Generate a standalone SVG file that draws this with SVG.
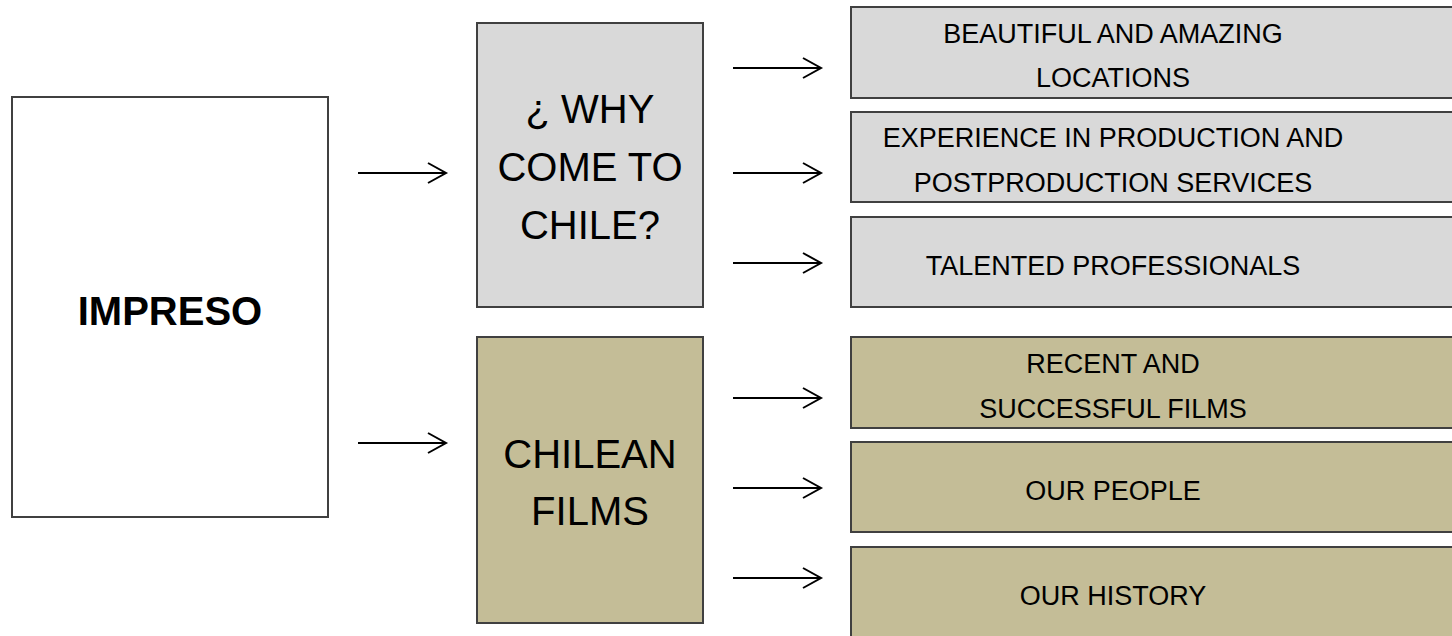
<svg xmlns="http://www.w3.org/2000/svg" width="1452" height="636" viewBox="0 0 1452 636">
<style>
.box{stroke:#404040;stroke-width:2}
.grey{fill:#d9d9d9}
.tan{fill:#c4bd97}
.t{font-family:"Liberation Sans",Arial,sans-serif;fill:#000;text-anchor:middle}
.big{font-size:40px}
.small{font-size:27px}
.arr{stroke:#000;stroke-width:2;fill:none}
</style>
<rect width="1452" height="636" fill="#fff"/>
<g id="impreso">
<rect class="box" x="12" y="97" width="316" height="420" fill="#fff"/>
<text class="t" x="170" y="325" font-size="40" font-weight="bold">IMPRESO</text>
</g>
<g id="why">
<rect class="box grey" x="477" y="23" width="226" height="284"/>
<text class="t big" x="590" y="123">¿ WHY</text>
<text class="t big" x="590" y="181">COME TO</text>
<text class="t big" x="590" y="239">CHILE?</text>
</g>
<g id="chilean">
<rect class="box tan" x="477" y="337" width="226" height="286"/>
<text class="t big" x="590" y="468">CHILEAN</text>
<text class="t big" x="590" y="525">FILMS</text>
</g>
<g id="locations">
<rect class="box grey" x="851" y="7" width="610" height="91"/>
<text class="t small" x="1113" y="43">BEAUTIFUL AND AMAZING</text>
<text class="t small" x="1113" y="87">LOCATIONS</text>
</g>
<g id="experience">
<rect class="box grey" x="851" y="112" width="610" height="90"/>
<text class="t small" x="1113" y="147">EXPERIENCE IN PRODUCTION AND</text>
<text class="t small" x="1113" y="192">POSTPRODUCTION SERVICES</text>
</g>
<g id="talented">
<rect class="box grey" x="851" y="217" width="610" height="90"/>
<text class="t small" x="1113" y="275">TALENTED PROFESSIONALS</text>
</g>
<g id="recent">
<rect class="box tan" x="851" y="337" width="610" height="91"/>
<text class="t small" x="1113" y="373">RECENT AND</text>
<text class="t small" x="1113" y="418">SUCCESSFUL FILMS</text>
</g>
<g id="people">
<rect class="box tan" x="851" y="442" width="610" height="90"/>
<text class="t small" x="1113" y="500">OUR PEOPLE</text>
</g>
<g id="history">
<rect class="box tan" x="851" y="547" width="610" height="100"/>
<text class="t small" x="1113" y="605">OUR HISTORY</text>
</g>
<g id="connectors" class="arr">
<path d="M358,173 H446 M428,163 L446,173 L428,183"/>
<path d="M358,443 H446 M428,433 L446,443 L428,453"/>
<path d="M733,68 H821 M803,58 L821,68 L803,78"/>
<path d="M733,173 H821 M803,163 L821,173 L803,183"/>
<path d="M733,263 H821 M803,253 L821,263 L803,273"/>
<path d="M733,398 H821 M803,388 L821,398 L803,408"/>
<path d="M733,488 H821 M803,478 L821,488 L803,498"/>
<path d="M733,578 H821 M803,568 L821,578 L803,588"/>
</g>
</svg>
